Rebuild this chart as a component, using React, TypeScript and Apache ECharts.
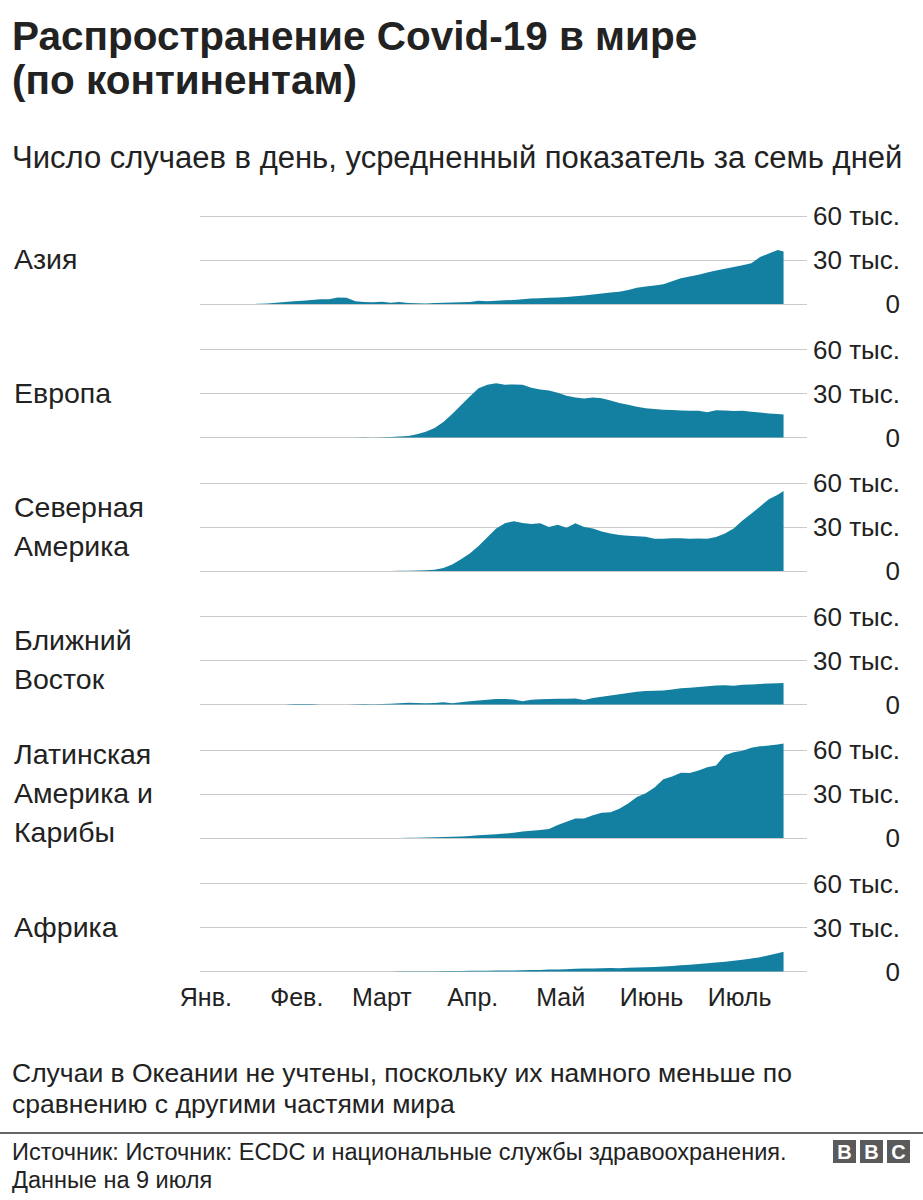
import React, { useEffect, useRef } from "react";
import * as echarts from "echarts";

// Day offsets from 1 January (shared by all series)
const days = [
  0, 3, 6, 9, 12, 15, 18, 21, 24, 27, 30, 33, 36, 39, 42, 45, 48, 51, 54, 57,
  60, 63, 66, 69, 72, 75, 78, 81, 84, 87, 90, 93, 96, 99, 102, 105, 108, 111,
  114, 117, 120, 123, 126, 129, 132, 135, 138, 141, 144, 147, 150, 153, 156,
  159, 162, 165, 168, 171, 174, 177, 180, 183, 186, 189, 192, 195, 197,
];

// Daily cases, 7-day average, thousands
const asia = [
  0, 0, 0, 0, 0, 0, 0.1, 0.3, 0.8, 1.3, 1.8, 2.3, 2.8, 3.2, 3.3, 4.4, 4.3, 1.8,
  1.4, 1.2, 1.5, 0.9, 1.3, 0.6, 0.5, 0.4, 0.6, 0.8, 1.0, 1.2, 1.4, 2.2, 1.8,
  2.2, 2.5, 2.8, 3.2, 3.8, 4.0, 4.2, 4.4, 4.8, 5.2, 5.8, 6.5, 7.2, 7.8, 8.4,
  9.5, 11.0, 12.0, 12.6, 13.5, 15.5, 17.5, 18.8, 20.0, 21.5, 22.8, 24.0, 25.3,
  26.5, 27.8, 32.0, 34.5, 36.8, 35.8,
];
const europe = [
  0, 0, 0, 0, 0, 0, 0, 0, 0, 0, 0, 0, 0, 0, 0, 0, 0, 0, 0.1, 0.05, 0.1, 0.3,
  0.6, 1.1, 2.2, 4.0, 6.5, 10.5, 16, 22, 28, 33.5, 36.0, 37.0, 36.0, 36.2,
  36.0, 34.0, 32.8, 32.0, 30.5, 28.5, 27.3, 26.6, 27.2, 26.8, 25.2, 23.5, 22.3,
  21.0, 20.0, 19.5, 19.0, 18.8, 18.4, 18.2, 18.3, 17.2, 18.5, 18.4, 18.0, 18.2,
  17.5, 17.0, 16.4, 16.0, 15.6,
];
const northAmerica = [
  0, 0, 0, 0, 0, 0, 0, 0, 0, 0, 0, 0, 0, 0, 0, 0, 0, 0, 0, 0, 0, 0, 0.2, 0.2,
  0.3, 0.5, 0.8, 2.0, 4.5, 8.0, 12.0, 17.0, 23.0, 29.0, 32.5, 34.0, 32.8, 32.0,
  32.6, 30.0, 31.5, 29.5, 32.5, 30.0, 29.0, 27.0, 25.5, 24.5, 24.0, 23.7, 23.3,
  22.0, 22.0, 22.3, 22.3, 22.0, 22.2, 22.0, 23.2, 25.5, 29.0, 34.5, 39.0, 44.0,
  49.0, 52.0, 54.5,
];
const middleEast = [
  0, 0, 0, 0, 0, 0, 0, 0, 0, 0, 0.4, 0.4, 0.3, 0, 0, 0, 0, 0.1, 0.3, 0.2, 0.3,
  0.5, 0.8, 1.2, 1.0, 0.8, 1.0, 1.5, 0.9, 1.5, 2.3, 2.8, 3.3, 3.7, 3.8, 3.4,
  2.2, 3.3, 3.5, 3.7, 3.9, 4.0, 4.1, 3.0, 4.5, 5.3, 6.2, 7.0, 7.8, 8.7, 9.2,
  9.3, 9.5, 10.3, 11.0, 11.5, 12.0, 12.5, 12.9, 13.2, 12.8, 13.4, 13.7, 14.0,
  14.3, 14.5, 14.6,
];
const latinAmerica = [
  0, 0, 0, 0, 0, 0, 0, 0, 0, 0, 0, 0, 0, 0, 0, 0, 0, 0, 0, 0, 0, 0, 0, 0.1,
  0.2, 0.3, 0.5, 0.7, 0.9, 1.1, 1.4, 1.8, 2.2, 2.6, 3.0, 3.5, 4.5, 4.9, 5.5,
  6.2, 8.8, 11.0, 13.3, 13.3, 15.5, 17.3, 17.5, 20.0, 23.5, 28.0, 30.5, 34.5,
  40.0, 42.0, 44.5, 44.3, 46.0, 48.3, 49.5, 56.5, 58.5, 59.5, 61.5, 62.5, 63.0,
  63.8, 64.5,
];
const africa = [
  0, 0, 0, 0, 0, 0, 0, 0, 0, 0, 0, 0, 0, 0, 0, 0, 0, 0, 0, 0, 0, 0, 0.1, 0.1,
  0.15, 0.2, 0.25, 0.3, 0.35, 0.4, 0.45, 0.5, 0.55, 0.6, 0.7, 0.75, 0.9, 1.0,
  1.1, 1.3, 1.4, 1.6, 1.8, 2.0, 2.1, 2.3, 2.4, 2.2, 2.5, 2.7, 2.9, 3.1, 3.4,
  3.8, 4.2, 4.6, 5.1, 5.6, 6.1, 6.7, 7.3, 8.0, 8.8, 9.8, 11.0, 12.5, 13.4,
];

const regionNames = [
  "Азия",
  "Европа",
  "Северная\nАмерика",
  "Ближний\nВосток",
  "Латинская\nАмерика и\nКарибы",
  "Африка",
];
const regionSeries = [asia, europe, northAmerica, middleEast, latinAmerica, africa];

const monthStarts = [0, 31, 60, 91, 121, 152, 182];
const monthLabels = ["Янв.", "Фев.", "Март", "Апр.", "Май", "Июнь", "Июль"];
const yTicks = [0, 30, 60];
const yTickLabels = ["0", "30 тыс.", "60 тыс."];

const FONT = '"Liberation Sans", Arial, Helvetica, sans-serif';
const TEXT = "#222222";
const BLUE = "#1380A1";

export default function App() {
  const ref = useRef<HTMLDivElement>(null);

  useEffect(() => {
    if (!ref.current) return;
    const chart = echarts.init(ref.current, undefined, { renderer: "svg" });

    const PANEL_TOP = 216;
    const PANEL_STEP = 133.5;
    const PANEL_H = 88;

    const grids: any[] = [];
    const xAxes: any[] = [];
    const yAxes: any[] = [];
    const series: any[] = [];
    const graphics: any[] = [];

    regionSeries.forEach((vals, i) => {
      const top = PANEL_TOP + i * PANEL_STEP;
      grids.push({ left: 200, width: 607, top, height: PANEL_H });
      const last = i === regionSeries.length - 1;
      xAxes.push({
        type: "value",
        gridIndex: i,
        min: -2,
        max: 205,
        axisLine: { show: false },
        axisTick: { show: false },
        splitLine: { show: false },
        axisLabel: {
          show: last,
          customValues: monthStarts,
          formatter: (v: number) => {
            const k = monthStarts.indexOf(v);
            return k >= 0 ? monthLabels[k] : "";
          },
          fontSize: 25,
          fontFamily: FONT,
          color: TEXT,
          margin: 13,
        },
      });
      yAxes.push({
        type: "value",
        gridIndex: i,
        position: "right",
        min: 0,
        max: 60,
        interval: 30,
        axisLine: { show: false },
        axisTick: { show: false },
        splitLine: { show: true, lineStyle: { color: "#cbcbcb", width: 1 } },
        axisLabel: {
          align: "right",
          margin: 93,
          fontSize: 26,
          fontFamily: FONT,
          color: TEXT,
          formatter: (v: number) => {
            const k = yTicks.indexOf(v);
            return k >= 0 ? yTickLabels[k] : "";
          },
        },
      });
      series.push({
        type: "line",
        name: regionNames[i],
        xAxisIndex: i,
        yAxisIndex: i,
        data: days.map((d, j) => [d, vals[j]]),
        showSymbol: false,
        symbol: "none",
        clip: false,
        silent: true,
        lineStyle: { width: 0 },
        areaStyle: { color: BLUE, opacity: 1 },
      });
      graphics.push({
        type: "text",
        x: 14,
        y: top + PANEL_H / 2 - 1,
        style: {
          text: regionNames[i],
          fontSize: 28.5,
          fontFamily: FONT,
          fill: TEXT,
          verticalAlign: "middle",
          lineHeight: 39,
        },
      });
    });

    graphics.push(
      {
        type: "text",
        x: 12,
        y: 58,
        style: {
          text: "Распространение Covid-19 в мире\n(по континентам)",
          fontSize: 40.5,
          fontWeight: "bold",
          fontFamily: FONT,
          fill: TEXT,
          verticalAlign: "middle",
          lineHeight: 44,
        },
      },
      {
        type: "text",
        x: 12,
        y: 157,
        style: {
          text: "Число случаев в день, усредненный показатель за семь дней",
          fontSize: 31,
          fontFamily: FONT,
          fill: TEXT,
          verticalAlign: "middle",
        },
      },
      {
        type: "text",
        x: 12,
        y: 1088,
        style: {
          text:
            "Случаи в Океании не учтены, поскольку их намного меньше по\nсравнению с другими частями мира",
          fontSize: 26.5,
          fontFamily: FONT,
          fill: TEXT,
          verticalAlign: "middle",
          lineHeight: 31,
        },
      },
      {
        type: "line",
        shape: { x1: 0, y1: 1133, x2: 923, y2: 1133 },
        style: { stroke: "#333333", lineWidth: 1.5 },
      },
      {
        type: "text",
        x: 12,
        y: 1166,
        style: {
          text:
            "Источник: Источник: ECDC и национальные службы здравоохранения.\nДанные на 9 июля",
          fontSize: 23.5,
          fontFamily: FONT,
          fill: TEXT,
          verticalAlign: "middle",
          lineHeight: 28,
        },
      }
    );

    ["B", "B", "C"].forEach((ch, k) => {
      const x = 833 + k * 27;
      graphics.push(
        {
          type: "rect",
          shape: { x, y: 1140, width: 23, height: 23 },
          style: { fill: "#5a5a5a" },
        },
        {
          type: "text",
          x: x + 11.5,
          y: 1152,
          style: {
            text: ch,
            fontSize: 20,
            fontWeight: "bold",
            fontFamily: FONT,
            fill: "#ffffff",
            align: "center",
            verticalAlign: "middle",
          },
        }
      );
    });

    chart.setOption({
      animation: false,
      backgroundColor: "#ffffff",
      grid: grids,
      xAxis: xAxes,
      yAxis: yAxes,
      series,
      graphic: graphics,
    });

    return () => chart.dispose();
  }, []);

  return (
    <div
      ref={ref}
      style={{ position: "absolute", left: 0, top: 0, width: 923, height: 1200 }}
    />
  );
}
